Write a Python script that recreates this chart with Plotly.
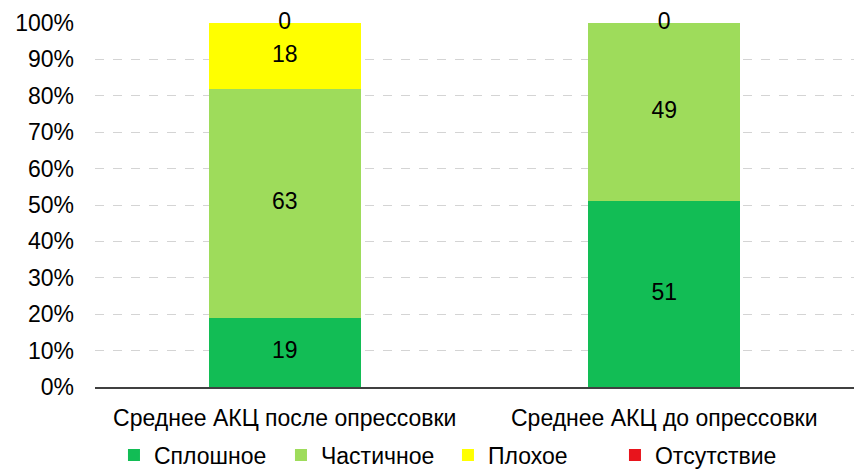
import plotly.graph_objects as go

categories = ["Среднее АКЦ после опрессовки", "Среднее АКЦ до опрессовки"]
series_names = ["Сплошное", "Частичное", "Плохое", "Отсутствие"]
solid = [19, 51]
partial = [63, 49]
poor = [18, 0]
absent = [0, 0]
colors = ["#12BD55", "#9EDC5B", "#FFFF00", "#E8141C"]
y_ticks = list(range(0, 101, 10))

series = [solid, partial, poor, absent]
font_family = "Liberation Sans, Arial, sans-serif"

fig = go.Figure()
for name, vals, col in zip(series_names, series, colors):
    fig.add_trace(go.Bar(
        x=categories, y=vals, name=name, marker=dict(color=col, line=dict(width=0)),
        width=0.4, hoverinfo="skip",
    ))

# value labels at the middle of each stacked segment
lx, ly, lt = [], [], []
for i, cat in enumerate(categories):
    base = 0
    seen = set()
    for vals in series:
        v = vals[i]
        mid = base + v / 2
        base += v
        if mid in seen:
            continue
        seen.add(mid)
        lx.append(cat)
        ly.append(mid)
        lt.append(str(v))
fig.add_trace(go.Scatter(
    x=lx, y=ly, text=lt, mode="text", showlegend=False, cliponaxis=False,
    textfont=dict(size=23, color="#000000", family=font_family), hoverinfo="skip",
))

fig.update_layout(
    barmode="stack",
    width=854, height=472,
    margin=dict(l=95, r=0, t=23, b=85),
    paper_bgcolor="white", plot_bgcolor="white",
    font=dict(family=font_family, size=23, color="#000000"),
    legend=dict(
        orientation="h", x=0.025, xanchor="left",
        yref="container", y=0.036, yanchor="middle",
        entrywidth=122, entrywidthmode="pixels", itemwidth=30,
        font=dict(size=23), traceorder="normal",
    ),
    xaxis=dict(
        range=[-0.5, 1.5], showgrid=False, showline=True, linecolor="#404040",
        linewidth=2, ticks="", ticklabelstandoff=9, zeroline=False,
    ),
    yaxis=dict(
        range=[0, 100], tickvals=y_ticks, ticktext=[f"{t}%" for t in y_ticks],
        showgrid=True, gridcolor="#d4d4d4", griddash="dash", gridwidth=1,
        zeroline=False, showline=False, ticks="", ticklabelstandoff=20,
    ),
)

fig.write_html("out.html")
